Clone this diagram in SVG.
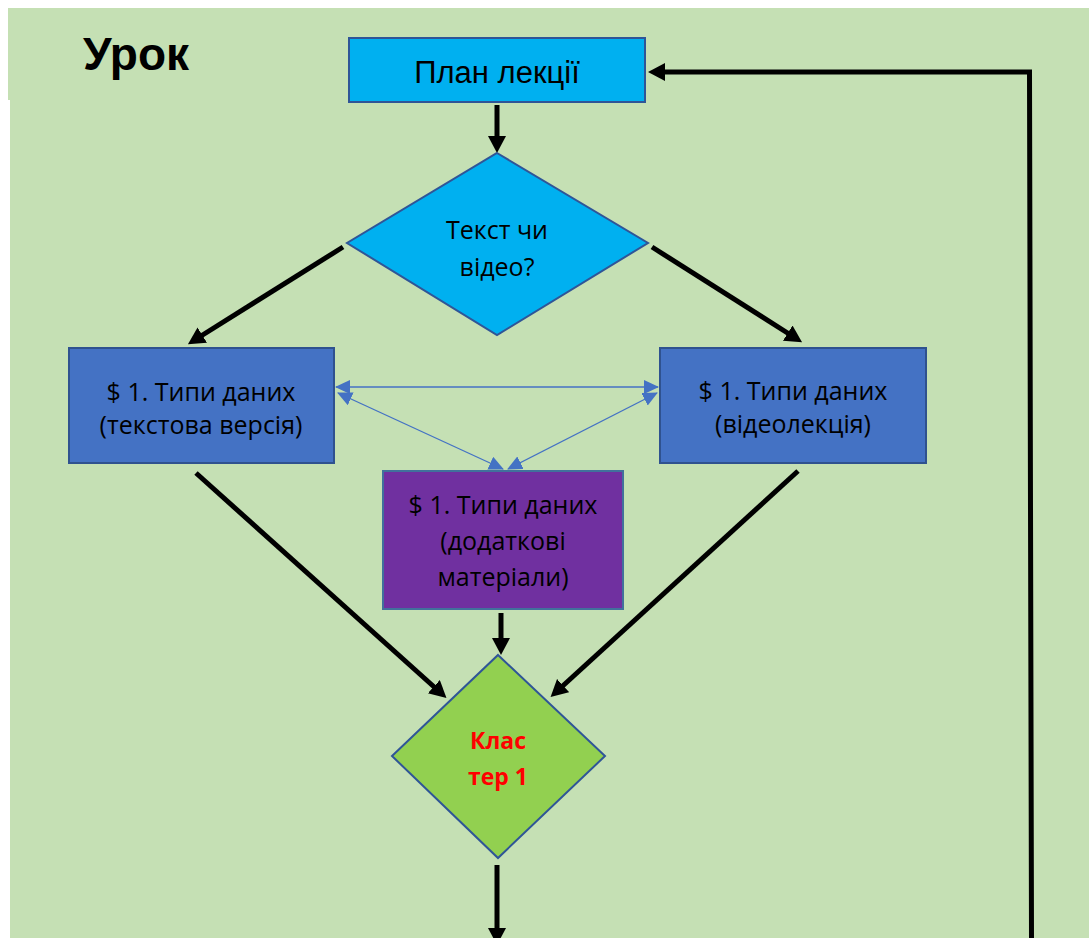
<svg xmlns="http://www.w3.org/2000/svg" width="1089" height="938" viewBox="0 0 1089 938">
  <defs>
    <style>
      .bg { fill: #C5E0B4; }
      .flow { stroke: #000; stroke-width: 5; fill: none; marker-end: url(#arrowBlack); }
      .link { stroke: #4472C4; stroke-width: 1.3; fill: none; marker-start: url(#arrowBlue); marker-end: url(#arrowBlue); }
      .box { fill: #4472C4; stroke: #2F528F; stroke-width: 2; }
      .label { font-family: "Open Sans", "Liberation Sans", sans-serif; font-size: 25px; fill: #000; text-anchor: middle; }
      .cluster-label { font-family: "Open Sans", "Liberation Sans", sans-serif; font-size: 23px; font-weight: bold; fill: #FF0000; text-anchor: middle; }
    </style>
    <marker id="arrowBlack" markerUnits="userSpaceOnUse" markerWidth="20" markerHeight="20" refX="11" refY="9" orient="auto">
      <path d="M0,0 L17,9 L0,18 z" fill="#000"/>
    </marker>
    <marker id="arrowBlue" markerUnits="userSpaceOnUse" markerWidth="16" markerHeight="16" refX="14" refY="7" orient="auto-start-reverse">
      <path d="M0,0 L15,7 L0,14 z" fill="#4472C4"/>
    </marker>
  </defs>

  <!-- page background -->
  <rect class="bg" x="8" y="8" width="1081" height="92"/>
  <rect class="bg" x="10" y="98" width="1079" height="840"/>

  <text x="83" y="70" font-family="Liberation Sans, Arial, sans-serif" font-size="46" font-weight="bold" fill="#000">Урок</text>

  <!-- connectors -->
  <g id="connectors">
    <line class="flow" x1="497" y1="105" x2="497" y2="147"/>
    <line class="flow" x1="343" y1="247" x2="193" y2="341"/>
    <line class="flow" x1="652" y1="247" x2="797" y2="339"/>
    <line class="flow" x1="196" y1="473" x2="442" y2="694"/>
    <line class="flow" x1="798" y1="471" x2="555" y2="693"/>
    <line class="flow" x1="501" y1="613" x2="501" y2="649"/>
    <line class="flow" x1="497" y1="865" x2="497" y2="939"/>
    <polyline class="flow" points="1031.5,938 1029.5,72 654,72"/>
    <line class="link" x1="336" y1="387" x2="658" y2="387"/>
    <line class="link" x1="338" y1="393" x2="503" y2="469"/>
    <line class="link" x1="657" y1="393" x2="508" y2="469"/>
  </g>

  <g id="plan">
    <rect x="349" y="38" width="296" height="64" fill="#00B0F0" stroke="#2F5597" stroke-width="2"/>
    <text x="497" y="83" font-family="Liberation Sans, Arial, sans-serif" font-size="31" fill="#000" text-anchor="middle">План лекції</text>
  </g>

  <g id="choice">
    <polygon points="497,153 648,243 497,335 347,243" fill="#00B0F0" stroke="#2F5597" stroke-width="2"/>
    <text class="label" x="497" y="239">Текст чи</text>
    <text class="label" x="497" y="276">відео?</text>
  </g>

  <g id="text-version">
    <rect class="box" x="69" y="348" width="265" height="115"/>
    <text class="label" x="201" y="401">$ 1. Типи даних</text>
    <text class="label" x="201" y="434">(текстова версія)</text>
  </g>

  <g id="video-version">
    <rect class="box" x="660" y="348" width="266" height="115"/>
    <text class="label" x="793" y="400">$ 1. Типи даних</text>
    <text class="label" x="793" y="433">(відеолекція)</text>
  </g>

  <g id="extra-materials">
    <rect x="383" y="471" width="240" height="138" fill="#7030A0" stroke="#41719C" stroke-width="2"/>
    <text class="label" x="503" y="514">$ 1. Типи даних</text>
    <text class="label" x="503" y="550">(додаткові</text>
    <text class="label" x="503" y="586">матеріали)</text>
  </g>

  <g id="cluster">
    <polygon points="498,655 605,756 498,858 392,756" fill="#92D050" stroke="#2F5597" stroke-width="2"/>
    <text class="cluster-label" x="498" y="749">Клас</text>
    <text class="cluster-label" x="498" y="785">тер 1</text>
  </g>
</svg>
